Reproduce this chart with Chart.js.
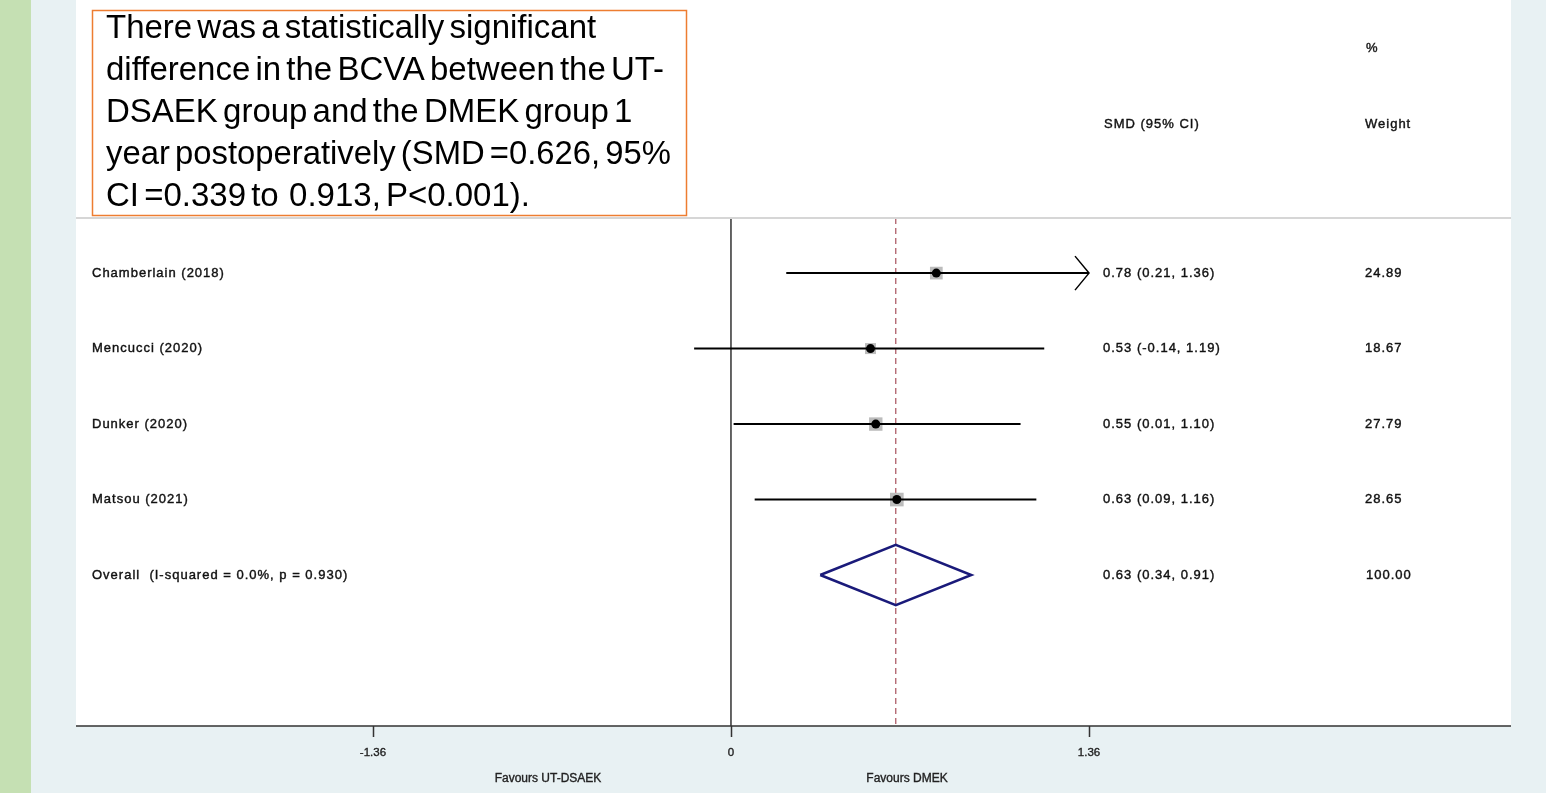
<!DOCTYPE html>
<html>
<head>
<meta charset="utf-8">
<script src="https://cdn.jsdelivr.net/npm/chart.js@4.4.1/dist/chart.umd.min.js"></script>
<style>
  body { margin: 0; background: #e8f1f3; }
  #wrap { position: relative; width: 1546px; height: 793px; }
</style>
</head>
<body>
<div id="wrap"><canvas id="forest" width="1546" height="793"></canvas></div>
<script>
let studies = ['Chamberlain (2018)', 'Mencucci (2020)', 'Dunker (2020)', 'Matsou (2021)'];
let smd = [0.78, 0.53, 0.55, 0.63];
let lower = [0.21, -0.14, 0.01, 0.09];
let upper = [1.36, 1.19, 1.10, 1.16];
let weights = [24.89, 18.67, 27.79, 28.65];
let ciLabels = ['0.78 (0.21, 1.36)', '0.53 (-0.14, 1.19)', '0.55 (0.01, 1.10)', '0.63 (0.09, 1.16)'];
let weightLabels = ['24.89', '18.67', '27.79', '28.65'];

let overallLabel = 'Overall  (I-squared = 0.0%, p = 0.930)';
let overallEst = 0.626;
let overallLo = 0.339;
let overallHi = 0.913;
let overallCiLabel = '0.63 (0.34, 0.91)';
let overallWeightLabel = '100.00';

let xTicks = [-1.36, 0, 1.36];
let xTickLabels = ['-1.36', '0', '1.36'];
let clipMax = 1.36;

let noteLines = [
    'There was a statistically significant',
    'difference in the BCVA between the UT-',
    'DSAEK group and the DMEK group 1',
    'year postoperatively (SMD =0.626, 95%',
    'CI =0.339 to  0.913, P<0.001).'
];

let rowCount = studies.length;
let smallFont = '13px "Liberation Sans", Arial, sans-serif';

let datasets = [];

// CI lines, one per study
studies.forEach((name, i) => {
    datasets.push({
        data: [{ x: lower[i], y: i }, { x: Math.min(upper[i], clipMax), y: i }],
        showLine: true,
        borderColor: '#000',
        borderWidth: 2,
        pointRadius: 0,
        order: 2
    });
});

datasets.push({
    data: studies.map((s, i) => ({ x: smd[i], y: i })),
    pointStyle: 'rect',
    pointRadius: weights.map(w => 9 * Math.sqrt(w / 25)),
    backgroundColor: '#bcbcbc',
    borderWidth: 0,
    order: 3
});

datasets.push({
    data: studies.map((s, i) => ({ x: smd[i], y: i })),
    pointStyle: 'circle',
    pointRadius: 4.5,
    backgroundColor: '#000',
    borderWidth: 0,
    order: 1
});

// overall diamond
datasets.push({
    data: [
        { x: overallLo, y: rowCount },
        { x: overallEst, y: rowCount - 0.4 },
        { x: overallHi, y: rowCount },
        { x: overallEst, y: rowCount + 0.4 },
        { x: overallLo, y: rowCount }
    ],
    showLine: true,
    borderColor: '#1a1a7a',
    borderWidth: 2.5,
    pointRadius: 0,
    tension: 0,
    order: 1
});

// null line and overall line
datasets.push({
    data: [{ x: 0, y: -0.73 }, { x: 0, y: 6 }],
    showLine: true,
    borderColor: '#000',
    borderWidth: 1.2,
    pointRadius: 0,
    order: 4
});
datasets.push({
    data: [{ x: overallEst, y: -0.73 }, { x: overallEst, y: 6 }],
    showLine: true,
    borderColor: '#a8505c',
    borderWidth: 1.2,
    borderDash: [6, 4],
    pointRadius: 0,
    order: 4
});

function boldText(ctx, text, x, y) {
    ctx.fillText(text, x, y);
    ctx.strokeText(text, x, y);
}

let forestDecor = {
    id: 'forestDecor',
    beforeDraw(chart) {
        let ctx = chart.ctx;
        let area = chart.chartArea;
        ctx.save();
        ctx.fillStyle = '#e8f1f3';
        ctx.fillRect(0, 0, chart.width, chart.height);
        ctx.fillStyle = '#c5e0b3';
        ctx.fillRect(0, 0, 31, chart.height);
        ctx.fillStyle = '#fff';
        ctx.fillRect(area.left, 0, area.right - area.left, area.bottom);
        ctx.restore();
    },
    afterDraw(chart) {
        let ctx = chart.ctx;
        let area = chart.chartArea;
        let xs = chart.scales.x;
        let ys = chart.scales.y;
        ctx.save();

        // separator under header
        ctx.strokeStyle = '#d6d6d6';
        ctx.lineWidth = 2;
        ctx.beginPath();
        ctx.moveTo(area.left, area.top);
        ctx.lineTo(area.right, area.top);
        ctx.stroke();

        // x axis
        ctx.strokeStyle = '#333';
        ctx.lineWidth = 1.5;
        ctx.beginPath();
        ctx.moveTo(area.left, area.bottom);
        ctx.lineTo(area.right, area.bottom);
        xTicks.forEach(t => {
            let px = Math.round(xs.getPixelForValue(t)) + 0.5;
            ctx.moveTo(px, area.bottom);
            ctx.lineTo(px, area.bottom + 11);
        });
        ctx.stroke();

        ctx.fillStyle = '#222';
        ctx.strokeStyle = '#222';
        ctx.lineWidth = 0.35;
        ctx.font = '11.5px "Liberation Sans", Arial, sans-serif';
        ctx.textAlign = 'center';
        ctx.textBaseline = 'middle';
        xTicks.forEach((t, i) => {
            boldText(ctx, xTickLabels[i], xs.getPixelForValue(t), area.bottom + 27);
        });
        ctx.font = '12px "Liberation Sans", Arial, sans-serif';
        boldText(ctx, 'Favours UT-DSAEK', 548, area.bottom + 53);
        boldText(ctx, 'Favours DMEK', 907, area.bottom + 53);

        // arrow for clipped CI
        ctx.strokeStyle = '#000';
        ctx.lineWidth = 1.5;
        upper.forEach((u, i) => {
            if (u >= clipMax) {
                let px = xs.getPixelForValue(clipMax);
                let py = ys.getPixelForValue(i);
                ctx.beginPath();
                ctx.moveTo(px - 14, py - 17);
                ctx.lineTo(px, py);
                ctx.lineTo(px - 14, py + 17);
                ctx.stroke();
            }
        });

        // row labels and columns
        ctx.font = smallFont;
        ctx.letterSpacing = '1px';
        ctx.fillStyle = '#111';
        ctx.strokeStyle = '#111';
        ctx.lineWidth = 0.4;
        ctx.textAlign = 'left';
        studies.forEach((name, i) => {
            let py = ys.getPixelForValue(i);
            boldText(ctx, name, 92, py);
            boldText(ctx, ciLabels[i], 1103, py);
            boldText(ctx, weightLabels[i], 1365, py);
        });
        let oy = ys.getPixelForValue(rowCount);
        boldText(ctx, overallLabel, 92, oy);
        boldText(ctx, overallCiLabel, 1103, oy);
        boldText(ctx, overallWeightLabel, 1366, oy);

        boldText(ctx, '%', 1366, 48);
        boldText(ctx, 'SMD (95% CI)', 1104, 124);
        boldText(ctx, 'Weight', 1365, 124);
        ctx.letterSpacing = '0px';

        // note box
        ctx.fillStyle = '#fff';
        ctx.fillRect(92, 10, 595, 206);
        ctx.strokeStyle = '#ed7d31';
        ctx.lineWidth = 1.5;
        ctx.strokeRect(92.5, 10.5, 594, 205);
        ctx.fillStyle = '#000';
        ctx.font = '33px "Liberation Sans Narrow", "Liberation Sans", Arial, sans-serif';
        ctx.letterSpacing = '0px';
        ctx.wordSpacing = '-4px';
        noteLines.forEach((line, i) => {
            ctx.fillText(line, 106, 29 + i * 42, 565);
        });
        ctx.restore();
    }
};

new Chart(document.getElementById('forest'), {
    type: 'scatter',
    data: { datasets: datasets },
    options: {
        responsive: false,
        animation: false,
        layout: { padding: { left: 76, right: 35, top: 218, bottom: 67 } },
        plugins: { legend: { display: false }, tooltip: { enabled: false } },
        scales: {
            x: { type: 'linear', min: -2.488, max: 2.963, display: false },
            y: { type: 'linear', min: -0.73, max: 6, reverse: true, display: false }
        }
    },
    plugins: [forestDecor]
});
</script>
</body>
</html>
